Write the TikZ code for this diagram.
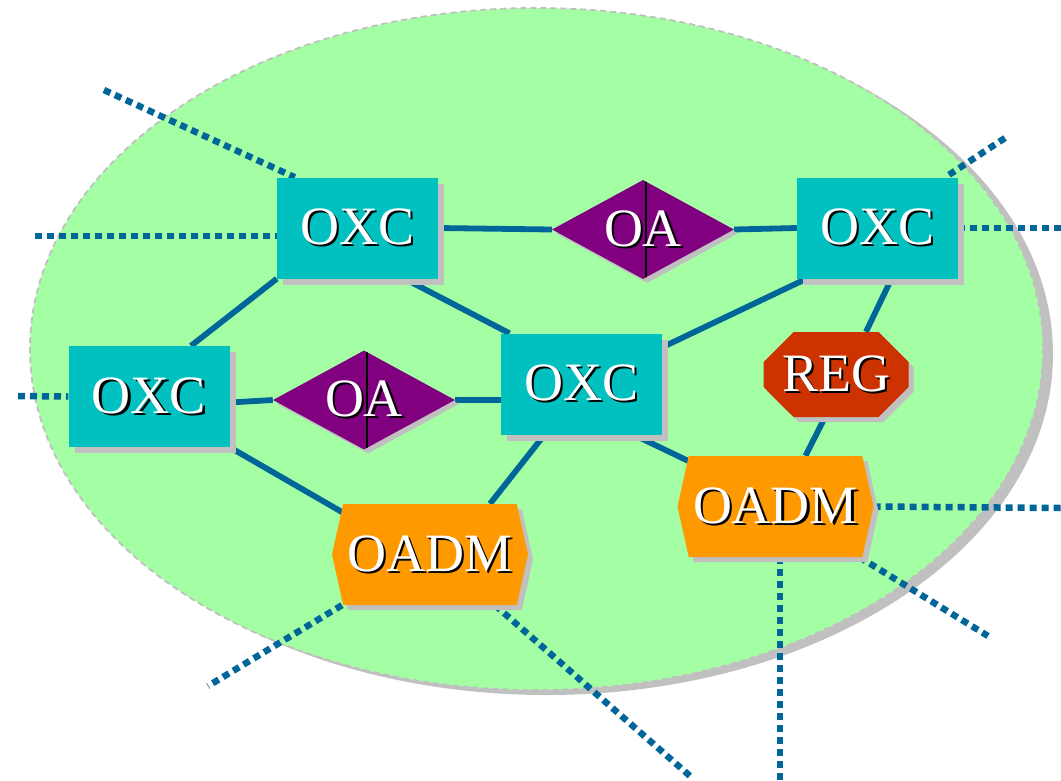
\documentclass[tikz,border=0pt]{standalone}
\usepackage{fontspec}
\setmainfont{Liberation Serif}
\usetikzlibrary{shapes.geometric,shapes.misc,shapes.symbols,shadows}
\definecolor{bggreen}{RGB}{164,255,164}
\definecolor{teal2}{RGB}{0,192,192}
\definecolor{purp}{RGB}{128,0,128}
\definecolor{regred}{RGB}{204,51,0}
\definecolor{orng}{RGB}{255,153,0}
\definecolor{lineblue}{RGB}{0,102,153}
\definecolor{shgray}{RGB}{192,192,192}
\newcommand\shtxt[1]{\makebox[0pt][l]{\kern2.2pt\raisebox{-2.2pt}{\color{black}#1}}#1}
\pgfdeclarelayer{bg}
\pgfdeclarelayer{edges}
\pgfsetlayers{bg,edges,main}
\tikzset{
  lbl/.style={text=white, font=\fontsize{54}{62}\selectfont, inner sep=0pt},
  shad/.style={drop shadow={shadow xshift=#1, shadow yshift=-#1, fill=shgray, opacity=1}},
  oxcbox/.style={lbl, rectangle, fill=teal2, minimum width=161, minimum height=101, shad=6pt},
  oabox/.style={lbl, diamond, aspect=1.85, fill=purp, minimum width=182, minimum height=99, shad=4pt,
    path picture={\draw[black,line width=1.3pt] ([xshift=3pt]path picture bounding box.north) -- ([xshift=3pt]path picture bounding box.south);}},
  regbox/.style={lbl, chamfered rectangle, chamfered rectangle xsep=15pt, chamfered rectangle ysep=15pt, fill=regred, minimum width=145, minimum height=85, shad=5pt},
  oadmbox/.style={lbl, signal, signal to=east and west, signal pointer angle=155, fill=orng, minimum width=196, minimum height=101, shad=5pt},
  link/.style={draw=lineblue, line width=5.8pt},
  dotl/.style={draw=lineblue, line width=6.5pt, dash pattern=on 7pt off 5pt},
}
\begin{document}
\begin{tikzpicture}[x=1pt,y=-1pt]
\useasboundingbox (0,0) rectangle (1061,780);
\begin{pgfonlayer}{bg}
\fill[shgray] (546.5,354) ellipse [x radius=506.5, y radius=341];
\draw[fill=bggreen, draw=shgray, line width=1.8pt, dash pattern=on 6pt off 4pt] (536.5,349) ellipse [x radius=506.5, y radius=341];
\end{pgfonlayer}

\node[oxcbox] (oxc1) at (357.5,228) {\shtxt{OXC}};
\node[oxcbox] (oxc2) at (877.5,228) {\shtxt{OXC}};
\node[oxcbox] (oxc3) at (149,396.5) {\shtxt{OXC}};
\node[oxcbox] (oxc4) at (581.5,384) {\shtxt{OXC}};
\node[oabox] (oa1) at (643,229.5) {\shtxt{OA}};
\node[oabox] (oa2) at (364,400) {\shtxt{OA}};
\node[regbox] (reg) at (836,374.5) {\shtxt{REG}};
\node[oadmbox] (oadm1) at (430,554.5) {\shtxt{OADM}};
\node[oadmbox] (oadm2) at (775.5,506.5) {\shtxt{OADM}};

\coordinate (p1) at (104,90);
\coordinate (p2) at (35,236);
\coordinate (p3) at (1005,138);
\coordinate (p4) at (1061,228);
\coordinate (p5) at (18,396);
\coordinate (p6) at (1061,508);
\coordinate (p7) at (988,636);
\coordinate (p8) at (780,780);
\coordinate (p9) at (208,686);
\coordinate (p10) at (690,776);

\begin{pgfonlayer}{edges}
\draw[link] (oxc1.east) -- (oa1.west);
\draw[link] (oa1.east) -- (oxc2.west);
\draw[link] (oxc1.south west) -- ([xshift=42pt]oxc3.north);
\draw[link] ([xshift=47pt]oxc1.south) -- ([xshift=-72pt]oxc4.north);
\draw[link] ([xshift=-71pt]oxc2.south) -- ([yshift=-14pt]oxc4.north east);
\draw[link] ([xshift=14pt]oxc2.south) -- ([xshift=30pt]reg.north);
\draw[link] ([xshift=-11pt]reg.south) -- ([xshift=30pt]oadm2.north);
\draw[link] ([yshift=-6pt]oxc3.east) -- (oa2.west);
\draw[link] (oa2.east) -- ([yshift=-16pt]oxc4.west);
\draw[link] (oxc3.south east) -- ([xshift=-85pt,yshift=-10pt]oadm1.north);
\draw[link] ([xshift=-37pt]oxc4.south) -- ([xshift=60pt]oadm1.north);
\draw[link] ([xshift=52pt]oxc4.south) -- ([xshift=-75pt,yshift=-11pt]oadm2.north);

\draw[dotl] (p1) -- ([xshift=18pt]oxc1.north west);
\draw[dotl] (p2) -- ([yshift=-8pt]oxc1.west);
\draw[dotl] (p3) -- ([xshift=-13pt]oxc2.north east);
\draw[dotl] (oxc2.east) -- (p4);
\draw[dotl] (p5) -- (oxc3.west);
\draw[dotl] (oadm2.east) -- (p6);
\draw[dotl] ([xshift=84pt]oadm2.south) -- (p7);
\draw[dotl] ([xshift=4.5pt]oadm2.south) -- (p8);
\draw[dotl] ([xshift=-88pt]oadm1.south) -- (p9);
\draw[dotl] ([xshift=65pt]oadm1.south) -- (p10);
\end{pgfonlayer}
\end{tikzpicture}
\end{document}
